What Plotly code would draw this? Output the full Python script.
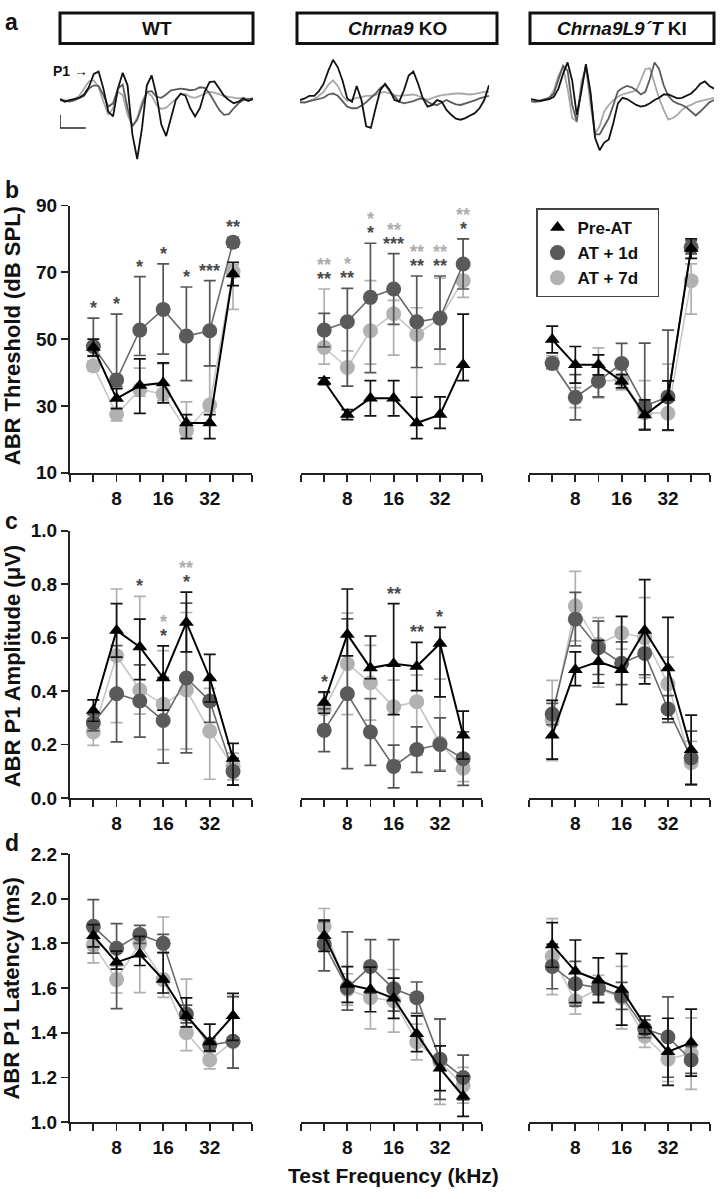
import numpy as np
import plotly.graph_objects as go

W, H = 724, 1199
FONT = "Liberation Sans, Arial, Helvetica, sans-serif"

# ---------------- shared categories ----------------
freqs = [5.66, 8, 11.3, 16, 22.6, 32, 45.25]
x_tick_vals = [4, 5.66, 8, 11.3, 16, 22.6, 32, 45.25, 60]
x_tick_text = ["", "", "8", "", "16", "", "32", "", ""]
x_range_khz = [4, 60]
genotype_labels = ["WT", "<i>Chrna9</i> KO", "<i>Chrna9L9´T</i> KI"]
series_names = ["Pre-AT", "AT + 1d", "AT + 7d"]

# ---------------- b: ABR threshold (dB SPL) ----------------
thr_wt_pre = [47.5, 32.2, 36.1, 36.9, 24.9, 24.9, 69.5]
thr_wt_pre_up = [2.5, 3, 8, 6, 2.5, 2.5, 3.5]
thr_wt_pre_dn = [2.5, 3, 8.3, 6, 4.7, 4.7, 3.5]
thr_wt_d1 = [47.8, 37.8, 52.7, 58.9, 50.9, 52.5, 79.0]
thr_wt_d1_up = [8.5, 19.7, 16, 13.6, 14.7, 15, 1.5]
thr_wt_d1_dn = [3, 2, 7.6, 13.4, 13.3, 10.5, 1.5]
thr_wt_d7 = [42.0, 27.5, 34.9, 33.6, 22.6, 30.3, 70.2]
thr_wt_d7_up = [1.5, 2, 6.4, 9, 8.6, 11.7, 2]
thr_wt_d7_dn = [1.5, 2, 2, 2, 2, 2, 11.3]

thr_ko_pre = [37.4, 27.4, 32.3, 32.3, 24.9, 27.4, 42.3]
thr_ko_pre_up = [1, 1.5, 5.3, 5.3, 7.7, 5.3, 15.2]
thr_ko_pre_dn = [1, 1.5, 5.3, 5.3, 4.7, 4.1, 4.7]
thr_ko_d1 = [52.7, 55.2, 62.5, 65.0, 55.2, 56.3, 72.5]
thr_ko_d1_up = [5, 10, 16.2, 10.6, 13.7, 12.6, 7.5]
thr_ko_d1_dn = [5, 19.3, 22.5, 10.6, 13.7, 9.3, 7.5]
thr_ko_d7 = [47.5, 41.5, 52.5, 57.6, 51.4, 56.3, 67.5]
thr_ko_d7_up = [17.5, 5, 15, 4, 8, 12, 12.5]
thr_ko_d7_dn = [5, 5.5, 10, 12.4, 18.7, 13.8, 5]

thr_ki_pre = [49.9, 42.3, 42.3, 37.4, 27.3, 32.5, 77.1]
thr_ki_pre_up = [4, 5.5, 3, 2, 4.5, 5, 2.9]
thr_ki_pre_dn = [4, 5.5, 3, 2, 4.5, 9.7, 2.9]
thr_ki_d1 = [42.7, 32.6, 37.4, 42.7, 30.0, 32.7, 77.5]
thr_ki_d1_up = [1.5, 6.8, 4.7, 6, 18.8, 20, 2]
thr_ki_d1_dn = [1.5, 6.8, 4.7, 6, 7, 10, 2]
thr_ki_d7 = [43.0, 32.5, 37.4, 37.8, 28.0, 27.8, 67.5]
thr_ki_d7_up = [2, 3, 10, 3, 9.6, 14.7, 5]
thr_ki_d7_dn = [2, 3, 5, 3, 5, 5, 10]

# ---------------- c: ABR P1 amplitude (uV) ----------------
amp_wt_pre = [0.327, 0.627, 0.565, 0.449, 0.657, 0.449, 0.148]
amp_wt_pre_up = [0.04, 0.10, 0.104, 0.12, 0.113, 0.088, 0.056]
amp_wt_pre_dn = [0.04, 0.10, 0.122, 0.12, 0.11, 0.09, 0.10]
amp_wt_d1 = [0.281, 0.39, 0.363, 0.29, 0.449, 0.363, 0.099]
amp_wt_d1_up = [0.03, 0.18, 0.135, 0.16, 0.28, 0.08, 0.05]
amp_wt_d1_dn = [0.03, 0.18, 0.135, 0.16, 0.28, 0.08, 0.05]
amp_wt_d7 = [0.247, 0.532, 0.404, 0.351, 0.404, 0.25, 0.118]
amp_wt_d7_up = [0.05, 0.25, 0.35, 0.2, 0.29, 0.16, 0.05]
amp_wt_d7_dn = [0.05, 0.25, 0.09, 0.17, 0.22, 0.18, 0.05]

amp_ko_pre = [0.357, 0.612, 0.486, 0.502, 0.492, 0.578, 0.235]
amp_ko_pre_up = [0.04, 0.17, 0.12, 0.225, 0.09, 0.06, 0.09]
amp_ko_pre_dn = [0.04, 0.08, 0.04, 0.19, 0.09, 0.2, 0.09]
amp_ko_d1 = [0.253, 0.39, 0.247, 0.118, 0.181, 0.2, 0.147]
amp_ko_d1_up = [0.08, 0.28, 0.125, 0.08, 0.085, 0.1, 0.1]
amp_ko_d1_dn = [0.08, 0.28, 0.125, 0.08, 0.085, 0.1, 0.1]
amp_ko_d7 = [0.333, 0.502, 0.431, 0.341, 0.36, 0.205, 0.111]
amp_ko_d7_up = [0.06, 0.19, 0.14, 0.1, 0.1, 0.24, 0.05]
amp_ko_d7_dn = [0.06, 0.19, 0.14, 0.2, 0.2, 0.1, 0.05]

amp_ki_pre = [0.235, 0.48, 0.51, 0.48, 0.627, 0.486, 0.18]
amp_ki_pre_up = [0.13, 0.067, 0.08, 0.2, 0.19, 0.19, 0.13]
amp_ki_pre_dn = [0.09, 0.06, 0.08, 0.13, 0.2, 0.19, 0.13]
amp_ki_d1 = [0.314, 0.669, 0.562, 0.504, 0.541, 0.333, 0.15]
amp_ki_d1_up = [0.04, 0.1, 0.1, 0.08, 0.08, 0.05, 0.1]
amp_ki_d1_dn = [0.04, 0.1, 0.1, 0.08, 0.08, 0.05, 0.1]
amp_ki_d7 = [0.29, 0.718, 0.575, 0.617, 0.6, 0.427, 0.132]
amp_ki_d7_up = [0.15, 0.13, 0.1, 0.06, 0.15, 0.1, 0.08]
amp_ki_d7_dn = [0.15, 0.13, 0.16, 0.06, 0.15, 0.1, 0.08]

# ---------------- d: ABR P1 latency (ms) ----------------
lat_wt_pre = [1.834, 1.715, 1.751, 1.638, 1.476, 1.359, 1.476]
lat_wt_pre_up = [0.05, 0.05, 0.08, 0.12, 0.08, 0.08, 0.10]
lat_wt_pre_dn = [0.05, 0.03, 0.05, 0.06, 0.05, 0.04, 0.11]
lat_wt_d1 = [1.876, 1.778, 1.84, 1.80, 1.484, 1.345, 1.362]
lat_wt_d1_up = [0.12, 0.11, 0.04, 0.04, 0.04, 0.03, 0.20]
lat_wt_d1_dn = [0.12, 0.27, 0.04, 0.04, 0.04, 0.03, 0.12]
lat_wt_d7 = [1.793, 1.638, 1.80, 1.638, 1.40, 1.278, 1.362]
lat_wt_d7_up = [0.08, 0.06, 0.04, 0.28, 0.24, 0.04, 0.20]
lat_wt_d7_dn = [0.08, 0.06, 0.22, 0.08, 0.08, 0.04, 0.12]

lat_ko_pre = [1.834, 1.616, 1.594, 1.554, 1.396, 1.241, 1.116]
lat_ko_pre_up = [0.07, 0.08, 0.10, 0.09, 0.08, 0.10, 0.09]
lat_ko_pre_dn = [0.07, 0.08, 0.10, 0.09, 0.08, 0.10, 0.09]
lat_ko_d1 = [1.797, 1.601, 1.697, 1.597, 1.557, 1.282, 1.20]
lat_ko_d1_up = [0.10, 0.25, 0.12, 0.22, 0.07, 0.18, 0.10]
lat_ko_d1_dn = [0.12, 0.10, 0.12, 0.10, 0.07, 0.18, 0.10]
lat_ko_d7 = [1.876, 1.594, 1.557, 1.543, 1.359, 1.27, 1.165]
lat_ko_d7_up = [0.08, 0.07, 0.14, 0.14, 0.08, 0.19, 0.08]
lat_ko_d7_dn = [0.08, 0.07, 0.14, 0.14, 0.08, 0.19, 0.08]

lat_ki_pre = [1.793, 1.675, 1.635, 1.594, 1.435, 1.315, 1.356]
lat_ki_pre_up = [0.10, 0.14, 0.10, 0.16, 0.04, 0.15, 0.15]
lat_ki_pre_dn = [0.10, 0.14, 0.10, 0.16, 0.04, 0.15, 0.15]
lat_ki_d1 = [1.697, 1.619, 1.601, 1.565, 1.418, 1.381, 1.278]
lat_ki_d1_up = [0.10, 0.10, 0.03, 0.06, 0.04, 0.18, 0.06]
lat_ki_d1_dn = [0.10, 0.10, 0.03, 0.06, 0.04, 0.18, 0.06]
lat_ki_d7 = [1.741, 1.543, 1.597, 1.557, 1.385, 1.282, 1.307]
lat_ki_d7_up = [0.17, 0.06, 0.06, 0.14, 0.05, 0.10, 0.16]
lat_ki_d7_dn = [0.17, 0.06, 0.06, 0.14, 0.05, 0.10, 0.16]

# ---------------- significance marks ----------------
sig_thr_wt_d1 = ["*", "*", "*", "*", "*", "***", "**"]
sig_thr_wt_d7 = ["", "", "", "", "", "", ""]
sig_thr_ko_d1 = ["**", "**", "*", "***", "**", "**", "*"]
sig_thr_ko_d7 = ["**", "*", "*", "**", "**", "**", "**"]
sig_amp_wt_d1 = ["", "", "*", "*", "*", "", ""]
sig_amp_wt_d7 = ["", "", "", "*", "**", "", ""]
sig_amp_ko_d1 = ["*", "", "", "**", "**", "*", ""]
sig_amp_ko_d7 = ["", "", "", "", "", "", ""]

# ---------------- a: example ABR waveforms (arbitrary amplitude units) ----------------
wave_t_ms = np.round(np.arange(41) * 0.15, 2)
wave_wt_pre = [-2, -10, -5, -2, 2, 12, 35, 75, 82, 30, -40, -55, 30, 78, 40, -110, -185, -90, 40, 70, 10,
               -80, -115, -60, -5, 15, 8, -30, -55, -30, 20, 50, 52, 30, 8, -5, -15, -10, 0, -8, -2]
wave_wt_d1 = [-5, -8, -10, -6, 0, 8, 30, 40, 38, 10, -25, -15, 30, 42, -30, -85, -65, -20, 20, 22, 5,
              2, 12, 25, 28, 30, 28, 25, 27, 34, 32, 15, -10, -35, -50, -48, -30, -15, -5, -2, 0]
wave_wt_d7 = [-2, -6, -8, -2, 8, 30, 52, 55, 35, -10, -50, -30, 20, 10, -50, -85, -60, -10, 18, 8, -20,
              -32, -28, -15, 0, 12, 14, 5, 2, 8, 15, 20, 18, 12, 8, 5, 2, 0, 2, -2, 0]
wave_ko_pre = [-5, 0, 8, 8, 22, 45, 85, 118, 95, 55, 0, -10, 38, -5, -85, -90, -30, 25, 45, 25, -5,
               -10, 25, 70, 82, 45, 0, -25, -20, -5, -10, -35, -50, -62, -65, -60, -52, -45, -30, -5, 40]
wave_ko_d1 = [-12, -13, -8, -5, -2, 2, 12, 15, 8, -10, -25, -30, -30, -22, -12, 2, 15, 32, 42, 22, 5,
              -10, -15, -12, -8, -2, 0, -10, -18, -20, -12, -5, -12, -18, -20, -16, -10, -6, 0, 4, 8]
wave_ko_d7 = [-10, -12, -8, -2, 8, 20, 42, 55, 38, 8, -8, -2, 2, 4, 8, 8, 10, 18, 20, 15, 10,
              8, 10, 12, 12, 8, 0, -4, 2, 6, 10, 12, 14, 15, 15, 13, 12, 14, 17, 20, 20]
wave_ki_pre = [-2, -6, -8, -5, -2, 5, 30, 75, 110, 55, -50, 20, 105, 20, -120, -158, -135, -125, -75, -15, 2,
               -2, -12, -20, -25, -22, -15, -5, 2, 12, 12, 6, 0, 2, 8, 15, 28, 45, 52, 38, 30]
wave_ki_d1 = [-8, -10, -6, -2, 2, 15, 55, 100, 85, -20, -70, 30, 100, 10, -110, -110, -85, -60, -20, 22, 32,
              38, 34, 25, 12, 20, 60, 110, 90, 40, 8, -8, -15, -20, -28, -40, -52, -40, -25, -12, -5]
wave_ki_d7 = [-10, -12, -8, -4, 2, 25, 70, 95, 30, -60, -70, 50, 95, -20, -108, -85, -40, -20, -5, 5, 12,
              16, 20, 24, 55, 90, 92, 42, 0, -35, -65, -60, -50, -35, -25, -20, -12, -8, -5, -1, 2]
scale_bar_ms = 0.8
scale_bar_amp = 40

# ---------------- styling / layout (pixels) ----------------
col_px = [(70, 252), (301, 482), (529, 710)]
row_px = [(199, 471), (530, 802), (859, 1132)]
box_px = [(60, 253), (297, 497), (530, 714)]
wave_px = [(60, 253), (300, 489), (531, 714)]
wave_y_px = (40, 165)
wave_range = [-225, 150]

DARK = "#5a5a5a"
LIGHT = "#b2b2b2"
styles = {
    "pre": dict(color="#000000", line="#000000", lw=2.0, sym="triangle-up", size=13, err="#111111"),
    "d1": dict(color=DARK, line="#6a6a6a", lw=1.6, sym="circle", size=15, err="#555555"),
    "d7": dict(color=LIGHT, line="#c6c6c6", lw=1.6, sym="circle", size=15, err="#b0b0b0"),
}


def px_x(p):
    return p / W


def px_y(p):
    return 1 - p / H


panels = {
    "thr": {
        "wt": {"pre": (thr_wt_pre, thr_wt_pre_up, thr_wt_pre_dn), "d1": (thr_wt_d1, thr_wt_d1_up, thr_wt_d1_dn), "d7": (thr_wt_d7, thr_wt_d7_up, thr_wt_d7_dn)},
        "ko": {"pre": (thr_ko_pre, thr_ko_pre_up, thr_ko_pre_dn), "d1": (thr_ko_d1, thr_ko_d1_up, thr_ko_d1_dn), "d7": (thr_ko_d7, thr_ko_d7_up, thr_ko_d7_dn)},
        "ki": {"pre": (thr_ki_pre, thr_ki_pre_up, thr_ki_pre_dn), "d1": (thr_ki_d1, thr_ki_d1_up, thr_ki_d1_dn), "d7": (thr_ki_d7, thr_ki_d7_up, thr_ki_d7_dn)},
    },
    "amp": {
        "wt": {"pre": (amp_wt_pre, amp_wt_pre_up, amp_wt_pre_dn), "d1": (amp_wt_d1, amp_wt_d1_up, amp_wt_d1_dn), "d7": (amp_wt_d7, amp_wt_d7_up, amp_wt_d7_dn)},
        "ko": {"pre": (amp_ko_pre, amp_ko_pre_up, amp_ko_pre_dn), "d1": (amp_ko_d1, amp_ko_d1_up, amp_ko_d1_dn), "d7": (amp_ko_d7, amp_ko_d7_up, amp_ko_d7_dn)},
        "ki": {"pre": (amp_ki_pre, amp_ki_pre_up, amp_ki_pre_dn), "d1": (amp_ki_d1, amp_ki_d1_up, amp_ki_d1_dn), "d7": (amp_ki_d7, amp_ki_d7_up, amp_ki_d7_dn)},
    },
    "lat": {
        "wt": {"pre": (lat_wt_pre, lat_wt_pre_up, lat_wt_pre_dn), "d1": (lat_wt_d1, lat_wt_d1_up, lat_wt_d1_dn), "d7": (lat_wt_d7, lat_wt_d7_up, lat_wt_d7_dn)},
        "ko": {"pre": (lat_ko_pre, lat_ko_pre_up, lat_ko_pre_dn), "d1": (lat_ko_d1, lat_ko_d1_up, lat_ko_d1_dn), "d7": (lat_ko_d7, lat_ko_d7_up, lat_ko_d7_dn)},
        "ki": {"pre": (lat_ki_pre, lat_ki_pre_up, lat_ki_pre_dn), "d1": (lat_ki_d1, lat_ki_d1_up, lat_ki_d1_dn), "d7": (lat_ki_d7, lat_ki_d7_up, lat_ki_d7_dn)},
    },
}
sig = {
    ("thr", "wt"): (sig_thr_wt_d1, sig_thr_wt_d7),
    ("thr", "ko"): (sig_thr_ko_d1, sig_thr_ko_d7),
    ("amp", "wt"): (sig_amp_wt_d1, sig_amp_wt_d7),
    ("amp", "ko"): (sig_amp_ko_d1, sig_amp_ko_d7),
}
row_keys = ["thr", "amp", "lat"]
col_keys = ["wt", "ko", "ki"]
y_cfg = {
    "thr": dict(range=[10, 90], tickvals=[10, 30, 50, 70, 90], fmt="d", title="ABR Threshold (dB SPL)"),
    "amp": dict(range=[0, 1.0], tickvals=[0, 0.2, 0.4, 0.6, 0.8, 1.0], fmt=".1f", title="ABR P1 Amplitude (μV)"),
    "lat": dict(range=[1.0, 2.2], tickvals=[1.0, 1.2, 1.4, 1.6, 1.8, 2.0, 2.2], fmt=".1f", title="ABR P1 Latency (ms)"),
}
y_title_center_px = [332, 668, 996]

fig = go.Figure()
layout = {}
annotations = []
shapes = []

tickfont = dict(family=FONT, size=19, color="#111", weight="bold")
eps = 1e-4

for r, rk in enumerate(row_keys):
    for c, ck in enumerate(col_keys):
        idx = r * 3 + c + 1
        xa = "x" if idx == 1 else f"x{idx}"
        ya = "y" if idx == 1 else f"y{idx}"
        xname = "xaxis" if idx == 1 else f"xaxis{idx}"
        yname = "yaxis" if idx == 1 else f"yaxis{idx}"
        x0, x1 = col_px[c]
        y0, y1 = row_px[r]
        cfg = y_cfg[rk]
        layout[xname] = dict(
            domain=[px_x(x0), px_x(x1)], anchor=ya, type="log",
            range=[np.log10(x_range_khz[0]) - eps, np.log10(x_range_khz[1]) + eps],
            tickmode="array", tickvals=x_tick_vals, ticktext=x_tick_text,
            ticks="outside", ticklen=7, tickwidth=1.8, tickcolor="#222",
            showline=True, linecolor="#222", linewidth=2, showgrid=False, zeroline=False,
            tickfont=tickfont, fixedrange=True,
        )
        yd = dict(domain=[px_y(y1), px_y(y0)], anchor=xa, range=cfg["range"],
                  showgrid=False, zeroline=False, fixedrange=True)
        if c == 0:
            yd.update(tickmode="array", tickvals=cfg["tickvals"], tickformat=cfg["fmt"],
                      ticks="outside", ticklen=7, tickwidth=1.8, tickcolor="#222",
                      showline=True, linecolor="#222", linewidth=2, tickfont=tickfont)
        else:
            yd.update(visible=False)
        layout[yname] = yd

        for sk in ["d7", "d1", "pre"]:
            mean, up, dn = panels[rk][ck][sk]
            st = styles[sk]
            fig.add_trace(go.Scatter(
                x=freqs, y=mean, xaxis=xa, yaxis=ya, mode="lines+markers",
                line=dict(color=st["line"], width=st["lw"]),
                marker=dict(symbol=st["sym"], size=st["size"], color=st["color"], line=dict(width=0)),
                error_y=dict(type="data", symmetric=False, array=up, arrayminus=dn,
                             color=st["err"], thickness=1.7, width=6),
                showlegend=False, cliponaxis=False, hoverinfo="skip",
            ))

        if (rk, ck) in sig:
            low, high = sig[(rk, ck)]
            tops = []
            for i in range(len(freqs)):
                tops.append(max(panels[rk][ck][s][0][i] + panels[rk][ck][s][1][i] for s in ["pre", "d1", "d7"]))
            for i, f in enumerate(freqs):
                if low[i]:
                    annotations.append(dict(x=np.log10(f), y=tops[i], xref=xa, yref=ya, text=low[i],
                                            showarrow=False, yanchor="middle", yshift=10,
                                            font=dict(family=FONT, size=18, color="#4a4a4a", weight="bold")))
                if high[i]:
                    annotations.append(dict(x=np.log10(f), y=tops[i], xref=xa, yref=ya, text=high[i],
                                            showarrow=False, yanchor="middle", yshift=24 if low[i] else 10,
                                            font=dict(family=FONT, size=18, color="#acacac", weight="bold")))

    annotations.append(dict(x=px_x(12), y=px_y(y_title_center_px[r]), xref="paper", yref="paper",
                            text=y_cfg[rk]["title"], textangle=-90, showarrow=False,
                            xanchor="center", yanchor="middle",
                            font=dict(family=FONT, size=22, color="#111", weight="bold")))

# legend-only entries
for sk, name in zip(["pre", "d1", "d7"], series_names):
    st = styles[sk]
    fig.add_trace(go.Scatter(
        x=[None], y=[None], xaxis="x9", yaxis="y9", mode="markers", name=name + "   ",
        legendgroup=sk,
        marker=dict(symbol=st["sym"], size=st["size"], color=st["color"], line=dict(width=0)),
        showlegend=True,
    ))

# ---------------- row a: waveforms ----------------
waves = [(wave_wt_d7, wave_wt_d1, wave_wt_pre), (wave_ko_d7, wave_ko_d1, wave_ko_pre), (wave_ki_d7, wave_ki_d1, wave_ki_pre)]
wave_colors = ["#a8a8a8", "#5c5c5c", "#111111"]
for c in range(3):
    idx = 10 + c
    xa, ya = f"x{idx}", f"y{idx}"
    layout[f"xaxis{idx}"] = dict(domain=[px_x(wave_px[c][0]), px_x(wave_px[c][1])], anchor=ya,
                                 range=[wave_t_ms[0], wave_t_ms[-1]], visible=False, fixedrange=True)
    layout[f"yaxis{idx}"] = dict(domain=[px_y(wave_y_px[1]), px_y(wave_y_px[0])], anchor=xa,
                                 range=wave_range, visible=False, fixedrange=True)
    for vals, col in zip(waves[c], wave_colors):
        fig.add_trace(go.Scatter(x=wave_t_ms, y=vals, xaxis=xa, yaxis=ya, mode="lines",
                                 line=dict(color=col, width=1.8), showlegend=False, hoverinfo="skip"))
    bx0, bx1 = box_px[c]
    shapes.append(dict(type="rect", xref="paper", yref="paper", x0=px_x(bx0), x1=px_x(bx1),
                       y0=px_y(34), y1=px_y(3), line=dict(color="#111", width=3), fillcolor="white", layer="below"))
    annotations.append(dict(x=px_x((bx0 + bx1) / 2), y=px_y(18.5), xref="paper", yref="paper",
                            text=genotype_labels[c], showarrow=False, xanchor="center", yanchor="middle",
                            font=dict(family=FONT, size=19, color="#111", weight="bold")))

# scale bar on WT waveform axis
t0 = wave_t_ms[0]
a0 = -90
shapes.append(dict(type="line", xref="x10", yref="y10", x0=t0, x1=t0, y0=a0, y1=a0 + scale_bar_amp,
                   line=dict(color="#222", width=1.5)))
shapes.append(dict(type="line", xref="x10", yref="y10", x0=t0, x1=t0 + scale_bar_ms, y0=a0, y1=a0,
                   line=dict(color="#222", width=1.5)))
annotations.append(dict(x=px_x(90), y=px_y(62), xref="paper", yref="paper", text="<b>P1</b> →",
                        showarrow=False, xanchor="right", yanchor="middle",
                        font=dict(family=FONT, size=14, color="#111")))

# panel letters
for letter, ypx in zip(["a", "b", "c", "d"], [12, 183, 520, 848]):
    annotations.append(dict(x=px_x(3), y=px_y(ypx), xref="paper", yref="paper", text=letter,
                            showarrow=False, xanchor="left", yanchor="middle",
                            font=dict(family=FONT, size=23, color="#111", weight="bold")))

# x title
annotations.append(dict(x=px_x(393), y=px_y(1186), xref="paper", yref="paper", text="Test Frequency (kHz)",
                        showarrow=False, xanchor="center", yanchor="middle",
                        font=dict(family=FONT, size=21, color="#111", weight="bold")))

fig.update_layout(
    **layout,
    width=W, height=H, autosize=False,
    margin=dict(l=0, r=0, t=0, b=0),
    paper_bgcolor="white", plot_bgcolor="white",
    annotations=annotations, shapes=shapes,
    showlegend=True,
    legend=dict(x=px_x(536), y=px_y(202), xanchor="left", yanchor="top",
                bordercolor="#444", borderwidth=1.5, bgcolor="white",
                font=dict(family=FONT, size=17, color="#111", weight="bold"),
                tracegroupgap=3, itemsizing="trace", traceorder="normal"),
    font=dict(family=FONT),
)

fig.write_html("out.html", config={"displayModeBar": False, "staticPlot": True},
               post_script="document.body.style.margin='0';document.body.style.overflow='hidden';")
